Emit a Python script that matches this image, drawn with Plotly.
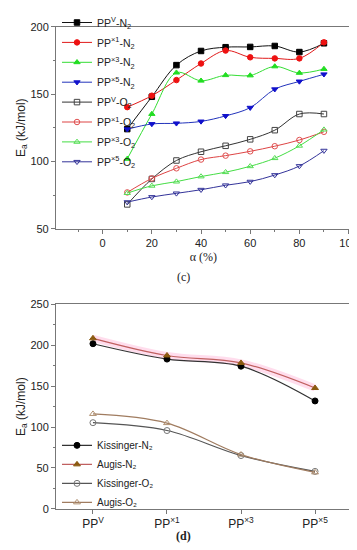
import plotly.graph_objects as go

# Panel (c) data
alpha = [10, 20, 30, 40, 50, 60, 70, 80, 90]
ppv_n2 = [124, 148, 171.5, 182, 184.8, 185, 185.7, 181.2, 187.7]
pp1_n2 = [140.3, 148.8, 160.4, 172.7, 182.3, 177.3, 176.5, 176.5, 188.4]
pp3_n2 = [101.9, 135.2, 165.9, 159.9, 164, 163.8, 170.5, 165.7, 168.6]
pp5_n2 = [123.9, 127.8, 128.3, 129.7, 133.8, 139.9, 153.6, 159.4, 164.7]
ppv_o2 = [68.1, 87, 100.7, 107.2, 111.6, 116.4, 123.2, 135.2, 135.2]
pp1_o2 = [77.0, 87.4, 94.9, 101.4, 104.3, 107.5, 111.3, 115.9, 122.0]
pp3_o2 = [76.5, 81.9, 85.0, 88.8, 92.0, 96.4, 102.4, 111.6, 123.6]
pp5_o2 = [69.8, 73.6, 76.3, 79.0, 82.3, 85.0, 89.9, 96.6, 108.0]

# Panel (d) data
samples = ["PP<sup>V</sup>", "PP<sup>×1</sup>", "PP<sup>×3</sup>", "PP<sup>×5</sup>"]
kiss_n2 = [202, 183.2, 174.5, 132]
augis_n2 = [208.6, 187.6, 178.5, 147.8]
kiss_o2 = [105.4, 95.8, 65.2, 45.8]
augis_o2 = [116.1, 104.9, 66.4, 44.6]

FONT = "Liberation Sans, Arial, sans-serif"
fig = go.Figure()

c_series = [
    ("PP<sup>V</sup>-N<sub>2</sub>", ppv_n2, "#000000", "#111111", "square"),
    ("PP<sup>×1</sup>-N<sub>2</sub>", pp1_n2, "#ee1111", "#e01a1a", "circle"),
    ("PP<sup>×3</sup>-N<sub>2</sub>", pp3_n2, "#22dd22", "#33dd33", "triangle-up"),
    ("PP<sup>×5</sup>-N<sub>2</sub>", pp5_n2, "#1111cc", "#2233bb", "triangle-down"),
    ("PP<sup>V</sup>-O<sub>2</sub>", ppv_o2, "#444444", "#333333", "square-open"),
    ("PP<sup>×1</sup>-O<sub>2</sub>", pp1_o2, "#e05050", "#dd4444", "circle-open"),
    ("PP<sup>×3</sup>-O<sub>2</sub>", pp3_o2, "#55dd55", "#44dd44", "triangle-up-open"),
    ("PP<sup>×5</sup>-O<sub>2</sub>", pp5_o2, "#333399", "#333399", "triangle-down-open"),
]
for i, (name, ys, mc, lc, sym) in enumerate(c_series):
    fig.add_trace(go.Scatter(
        x=alpha, y=ys, name=name, mode="lines+markers",
        line=dict(color=lc, width=1, shape="spline", smoothing=1.0),
        marker=dict(color=mc, symbol=sym, size=5.5, line=dict(color=mc, width=1)),
        xaxis="x", yaxis="y", legend="legend", legendgroup=f"c{i}",
    ))

# glow behind Augis-N2
fig.add_trace(go.Scatter(
    x=samples, y=augis_n2, mode="lines", showlegend=False, hoverinfo="skip",
    line=dict(color="rgba(255,170,210,0.4)", width=7, shape="spline", smoothing=1.0),
    xaxis="x2", yaxis="y2",
))

d_series = [
    ("Kissinger-N₂", kiss_n2, "#000000", "#333333", "circle"),
    ("Augis-N₂", augis_n2, "#8b5a10", "#c06060", "triangle-up"),
    ("Kissinger-O₂", kiss_o2, "#777777", "#555555", "circle-open"),
    ("Augis-O₂", augis_o2, "#b09070", "#a07c60", "triangle-up-open"),
]
for i, (name, ys, mc, lc, sym) in enumerate(d_series):
    fig.add_trace(go.Scatter(
        x=samples, y=ys, name=name, mode="lines+markers",
        line=dict(color=lc, width=1.2, shape="spline", smoothing=1.0),
        marker=dict(color=mc, symbol=sym, size=6, line=dict(color=mc, width=1)),
        xaxis="x2", yaxis="y2", legend="legend2",
    ))

axis_common = dict(
    showline=True, linecolor="#777777", linewidth=1, mirror=True,
    ticks="outside", ticklen=4, tickcolor="#777777", showgrid=False, zeroline=False,
    tickfont=dict(family=FONT, size=11, color="#222222"),
)

fig.update_layout(
    width=357, height=550, margin=dict(l=0, r=0, t=0, b=0),
    paper_bgcolor="white", plot_bgcolor="white",
    font=dict(family=FONT, size=11, color="#222222"),
    xaxis=dict(domain=[0.137, 0.980], range=[-19, 101], tickvals=[0, 20, 40, 60, 80, 100],
               minor=dict(tickvals=[-10, 10, 30, 50, 70, 90], ticks="outside", ticklen=2, tickcolor="#777777"),
               title=dict(text="α (%)", font=dict(family="Liberation Serif, serif", size=12), standoff=4),
               anchor="y", **axis_common),
    yaxis=dict(domain=[0.603, 0.980], range=[50, 200], tickvals=[50, 100, 150, 200],
               minor=dict(tickvals=[75, 125, 175], ticks="outside", ticklen=2, tickcolor="#777777"),
               title=dict(text="E<sub>a</sub> (kJ/mol)", font=dict(size=12), standoff=2),
               anchor="x", **axis_common),
    xaxis2=dict(domain=[0.137, 0.983], range=[-0.5, 3.5], type="category",
                tickfont=dict(family=FONT, size=12, color="#222222"),
                anchor="y2",
                **{k: v for k, v in axis_common.items() if k != "tickfont"}),
    yaxis2=dict(domain=[0.0805, 0.4618], range=[0, 250], tickvals=[0, 50, 100, 150, 200, 250],
                minor=dict(tickvals=[25, 75, 125, 175, 225], ticks="outside", ticklen=2, tickcolor="#777777"),
                title=dict(text="E<sub>a</sub> (kJ/mol)", font=dict(size=12), standoff=2),
                anchor="x2", **axis_common),
    legend=dict(x=0.14, y=1.015, xanchor="left", yanchor="top", bgcolor="rgba(0,0,0,0)",
                font=dict(family=FONT, size=10.5, color="#222222"), itemwidth=30, tracegroupgap=0.9),
    legend2=dict(x=0.14, y=0.226, xanchor="left", yanchor="top", bgcolor="rgba(0,0,0,0)",
                 font=dict(family=FONT, size=10, color="#222222"), itemwidth=30, tracegroupgap=0),
    annotations=[
        dict(text="(c)", x=0.5, y=1 - 268 / 550, xref="paper", yref="paper", showarrow=False,
             font=dict(family="Liberation Serif, serif", size=12, color="#222222")),
        dict(text="<b>(d)</b>", x=0.5, y=1 - 543 / 550, xref="paper", yref="paper", showarrow=False,
             font=dict(family="Liberation Serif, serif", size=12, color="#222222")),
    ],
)

fig.write_html("out.html")
